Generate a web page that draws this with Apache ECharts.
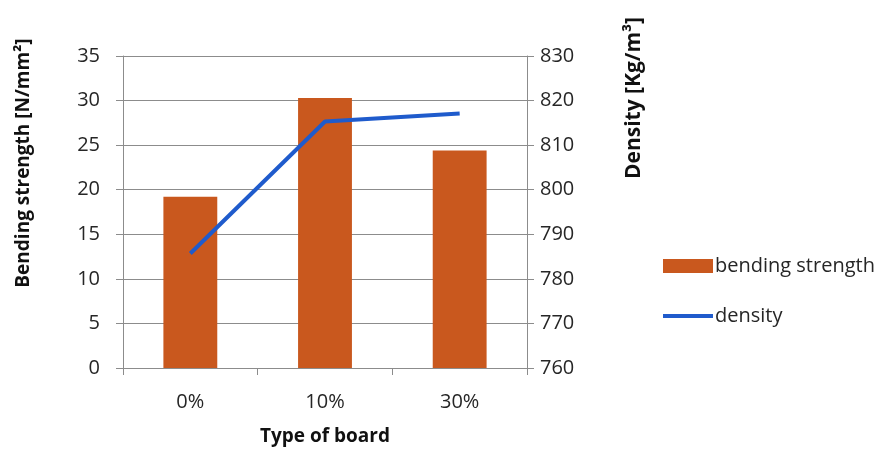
<!DOCTYPE html>
<html>
<head>
<meta charset="utf-8">
<script src="https://cdn.jsdelivr.net/npm/echarts@6/dist/echarts.min.js"></script>
<style>
  html, body { margin: 0; padding: 0; background: #fff; }
  #chart { width: 894px; height: 451px; }
</style>
</head>
<body>
<div id="chart"></div>
<script>
// Board types and measured properties
const categories = ['0%', '10%', '30%'];
const bendingStrength = [19.2, 30.3, 24.4];   // N/mm²
const density = [785.7, 815.3, 817.1];        // Kg/m³

const FONT = '"Open Sans", Lato, sans-serif';
const ORANGE = '#C9581E';
const BLUE = '#1F5BCC';
const GRID = '#8C8C8C';
const TEXT = '#262626';

// Legend line icon: a thick stroke centred in the icon box
const LINE_ICON = 'path://M0,0h0.01v0.01h-0.01z M0,14h0.01v0.01h-0.01z M0,5h50v4h-50z';

const chart = echarts.init(document.getElementById('chart'), null, { renderer: 'canvas' });

chart.setOption({
  animation: false,
  backgroundColor: '#fff',
  textStyle: { fontFamily: FONT },
  grid: { left: 123, right: 367, top: 56, bottom: 83 },
  legend: {
    orient: 'vertical',
    left: 658,
    top: 251,
    itemWidth: 50,
    itemHeight: 14,
    itemGap: 30,
    textStyle: { fontFamily: FONT, fontSize: 20, color: TEXT, padding: [0, 0, 0, -3] },
    data: [
      { name: 'bending strength', icon: 'rect' },
      { name: 'density', icon: LINE_ICON, itemStyle: { color: BLUE } }
    ]
  },
  xAxis: {
    type: 'category',
    data: categories,
    boundaryGap: true,
    axisLine: { show: true, lineStyle: { color: GRID, width: 1 } },
    axisTick: { show: true, length: 7, lineStyle: { color: GRID } },
    axisLabel: { fontSize: 20, color: TEXT, margin: 24, fontFamily: FONT }
  },
  yAxis: [
    {
      type: 'value',
      min: 0, max: 35, interval: 5,
      axisLine: { show: true, lineStyle: { color: GRID } },
      axisTick: { show: true, length: 7, lineStyle: { color: GRID } },
      splitLine: { show: true, lineStyle: { color: GRID, width: 1 } },
      axisLabel: { fontSize: 20, color: TEXT, margin: 23, fontFamily: FONT }
    },
    {
      type: 'value',
      min: 760, max: 830, interval: 10,
      position: 'right',
      axisLine: { show: true, lineStyle: { color: GRID } },
      axisTick: { show: true, length: 7, lineStyle: { color: GRID } },
      splitLine: { show: false },
      axisLabel: { fontSize: 20, color: TEXT, margin: 13, fontFamily: FONT }
    }
  ],
  graphic: [
    {
      type: 'text',
      x: 24, y: 163,
      rotation: Math.PI / 2,
      style: {
        text: 'Bending strength [N/mm²]',
        fontSize: 19, fontWeight: 'bold', fill: '#111', fontFamily: FONT,
        align: 'center', verticalAlign: 'middle'
      }
    },
    {
      type: 'text',
      x: 634, y: 98,
      rotation: Math.PI / 2,
      style: {
        text: 'Density [Kg/m³]',
        fontSize: 21, fontWeight: 'bold', fill: '#111', fontFamily: FONT,
        align: 'center', verticalAlign: 'middle'
      }
    },
    {
      type: 'text',
      x: 325, y: 437,
      style: {
        text: 'Type of board',
        fontSize: 19, fontWeight: 'bold', fill: '#111', fontFamily: FONT,
        align: 'center', verticalAlign: 'middle'
      }
    }
  ],
  series: [
    {
      name: 'bending strength',
      type: 'bar',
      yAxisIndex: 0,
      data: bendingStrength,
      barWidth: '40%',
      itemStyle: { color: ORANGE }
    },
    {
      name: 'density',
      type: 'line',
      yAxisIndex: 1,
      data: density,
      symbol: 'none',
      lineStyle: { color: BLUE, width: 4 },
      itemStyle: { color: BLUE }
    }
  ]
});
</script>
</body>
</html>
